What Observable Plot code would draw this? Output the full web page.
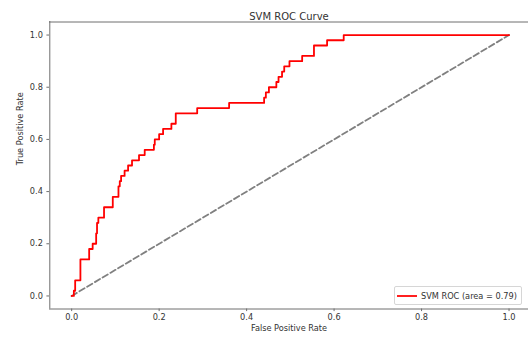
<!DOCTYPE html>
<html>
<head>
<meta charset="utf-8">
<script src="https://cdn.jsdelivr.net/npm/d3@7"></script>
<script src="https://cdn.jsdelivr.net/npm/@observablehq/plot@0.6"></script>
<style>
  html, body { margin: 0; padding: 0; background: #fff; overflow: hidden; }
  #wrap { position: relative; width: 528px; height: 337px; }
  #legend {
    position: absolute; left: 394px; top: 286px; width: 128px; height: 19px;
    border: 1px solid #d6d6d6; border-radius: 2px; background: rgba(255,255,255,0.8);
    box-sizing: border-box; font-family: "DejaVu Sans", sans-serif; font-size: 8.2px; color: #333;
  }
  #legend .sw { position: absolute; left: 2px; top: 8px; width: 20px; height: 2px; background-color: #ff2020; }
  #legend .lb { position: absolute; left: 26px; top: 4px; white-space: nowrap; line-height: 10px; }
</style>
</head>
<body>
<div id="wrap"></div>
<script>
// ROC curve vertices: at each fpr the tpr rises to the given value (step-after)
const fpr = [0.000, 0.005, 0.008, 0.020, 0.040, 0.048, 0.056, 0.058, 0.061, 0.074, 0.094, 0.107, 0.110, 0.113, 0.121, 0.129, 0.138, 0.154, 0.167, 0.188, 0.190, 0.200, 0.209, 0.228, 0.238, 0.287, 0.360, 0.440, 0.444, 0.451, 0.468, 0.473, 0.481, 0.486, 0.498, 0.527, 0.554, 0.584, 0.622, 1.000];
const tpr = [0.000, 0.020, 0.060, 0.140, 0.180, 0.200, 0.240, 0.280, 0.300, 0.340, 0.380, 0.420, 0.440, 0.460, 0.480, 0.500, 0.520, 0.540, 0.560, 0.580, 0.600, 0.620, 0.640, 0.660, 0.700, 0.720, 0.740, 0.760, 0.780, 0.800, 0.820, 0.840, 0.860, 0.880, 0.900, 0.920, 0.960, 0.980, 1.000, 1.000];
const chanceX = [0, 1];
const chanceY = [0, 1];
const ticks = [0, 0.2, 0.4, 0.6, 0.8, 1.0];
const title = "SVM ROC Curve";
const xLabel = "False Positive Rate";
const yLabel = "True Positive Rate";
const legendLabel = "SVM ROC (area = 0.79)";

const roc = fpr.map((f, i) => ({x: f, y: tpr[i]}));
const chance = chanceX.map((c, i) => ({x: c, y: chanceY[i]}));
const font = "DejaVu Sans, sans-serif";
const textColor = "#333";
const spine = "#6e6e6e";

const chart = Plot.plot({
  width: 528,
  height: 337,
  marginLeft: 49, marginRight: 0, marginTop: 21, marginBottom: 28.5,
  style: {fontFamily: font, background: "#fff", overflow: "hidden"},
  x: {domain: [-0.05, 1.05], range: [49.3, 530.4]},
  y: {domain: [-0.05, 1.05], range: [308.5, 21.5]},
  marks: [
    Plot.ruleX([-0.05], {stroke: spine, strokeWidth: 1}),
    Plot.ruleY([-0.05], {stroke: spine, strokeWidth: 1}),
    Plot.ruleY([1.05], {stroke: spine, strokeWidth: 1}),
    Plot.axisX(ticks, {tickFormat: d3.format(".1f"), tickSize: 2.6, tickPadding: 3, fontSize: 8.2, fill: textColor, stroke: spine, label: null}),
    Plot.axisY(ticks, {anchor: "left", tickFormat: d3.format(".1f"), tickSize: 2.6, tickPadding: 4, fontSize: 8.2, fill: textColor, stroke: spine, label: null}),
    Plot.line(chance, {x: "x", y: "y", stroke: "gray", strokeWidth: 1.8, strokeDasharray: "6,3"}),
    Plot.line(roc, {x: "x", y: "y", curve: "step-after", stroke: "#ff0000", strokeWidth: 1.8}),
    Plot.text([title], {frameAnchor: "top", dy: -9, fontSize: 10, fill: textColor, fontFamily: font}),
    Plot.text([xLabel], {frameAnchor: "bottom", dy: 22, fontSize: 8.2, fill: textColor, fontFamily: font}),
    Plot.text([yLabel], {frameAnchor: "left", dx: -28.8, rotate: -90, fontSize: 8.2, fill: textColor, fontFamily: font})
  ]
});
document.getElementById("wrap").appendChild(chart);

const lg = document.createElement("div");
lg.id = "legend";
lg.innerHTML = '<div class="sw"></div><div class="lb"></div>';
lg.querySelector(".lb").textContent = legendLabel;
document.getElementById("wrap").appendChild(lg);
</script>
</body>
</html>
